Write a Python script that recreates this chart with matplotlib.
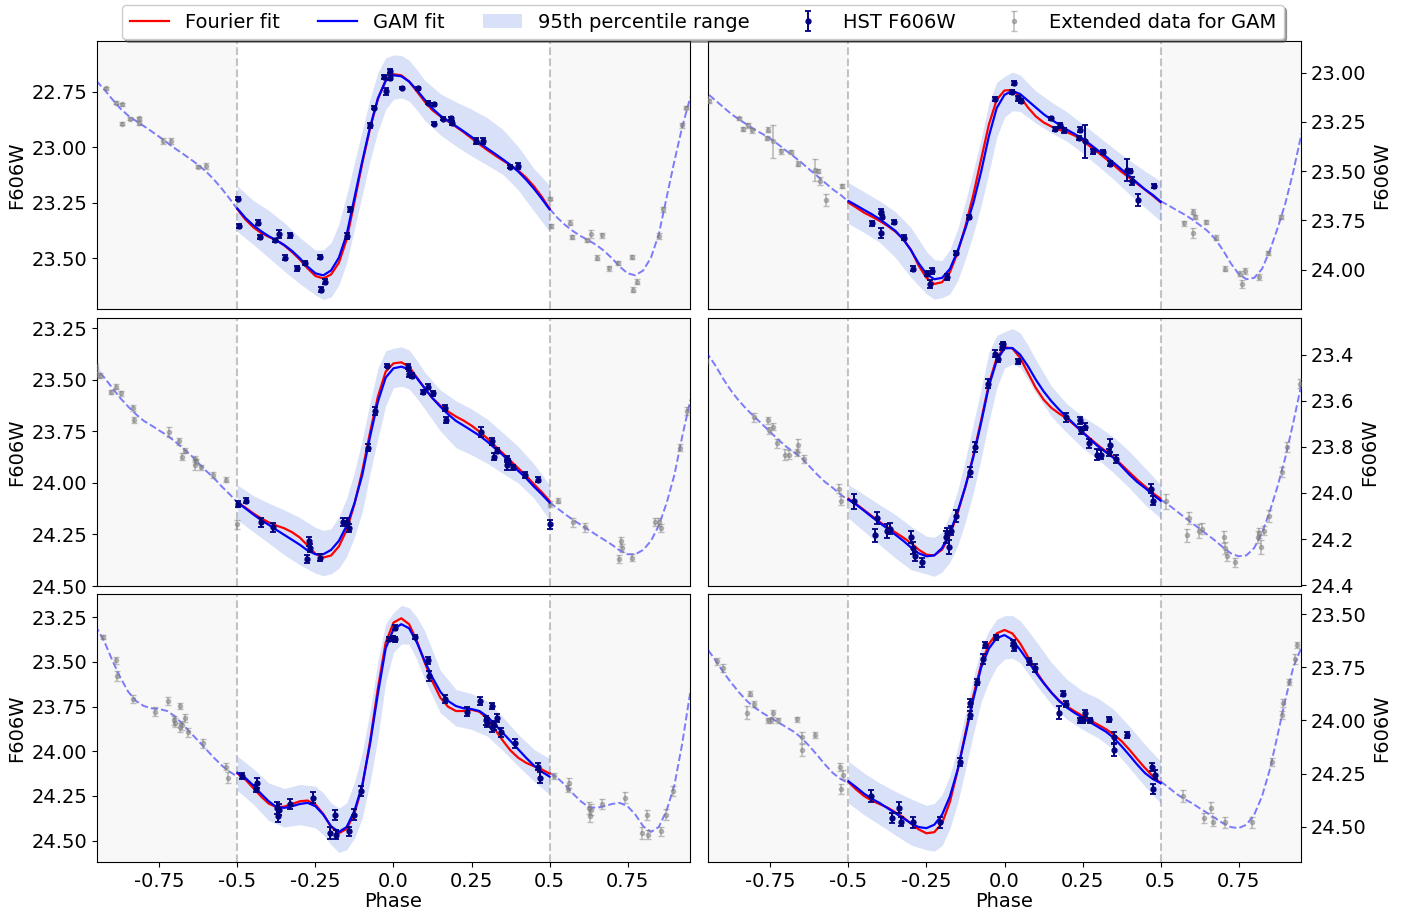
import matplotlib
matplotlib.use('Agg')
import matplotlib.pyplot as plt
import numpy as np
from matplotlib.patches import Patch

plt.rcParams['axes.unicode_minus'] = False
plt.rcParams['font.family'] = ['DejaVu Sans']

# ---------------- shared phase grids ----------------
fit_phase = [-0.5, -0.475, -0.45, -0.425, -0.4, -0.375, -0.35, -0.325, -0.3, -0.275,
             -0.25, -0.225, -0.2, -0.175, -0.15, -0.125, -0.1, -0.075, -0.05, -0.025,
             0.0, 0.025, 0.05, 0.075, 0.1, 0.125, 0.15, 0.175, 0.2, 0.225,
             0.25, 0.275, 0.3, 0.325, 0.35, 0.375, 0.4, 0.425, 0.45, 0.475, 0.5]
band_phase = [-0.5, -0.45, -0.4, -0.35, -0.3, -0.25, -0.225, -0.2, -0.175, -0.15,
              -0.125, -0.1, -0.075, -0.05, -0.025, 0.0, 0.025, 0.05, 0.075, 0.1,
              0.15, 0.2, 0.25, 0.3, 0.35, 0.4, 0.45, 0.5]

# ---------------- panel 1 (top left) ----------------
tl_phase = [-0.497, -0.495, -0.435, -0.427, -0.380, -0.368, -0.332, -0.347, -0.310, -0.282,
            -0.235, -0.220, -0.232, -0.149, -0.138, -0.075, -0.063, -0.032, -0.025, -0.012,
            -0.011, 0.027, 0.080, 0.112, 0.129, 0.129, 0.157, 0.185, 0.186, 0.263,
            0.287, 0.374, 0.400]
tl_mag = [23.232, 23.355, 23.340, 23.404, 23.420, 23.390, 23.398, 23.498, 23.547, 23.523,
          23.495, 23.607, 23.642, 23.400, 23.280, 22.901, 22.821, 22.682, 22.748, 22.655,
          22.685, 22.732, 22.733, 22.798, 22.806, 22.893, 22.870, 22.869, 22.889, 22.971,
          22.971, 23.087, 23.084]
tl_err = [0.008, 0.008, 0.010, 0.010, 0.008, 0.018, 0.010, 0.012, 0.012, 0.010,
          0.008, 0.012, 0.012, 0.015, 0.010, 0.010, 0.008, 0.008, 0.015, 0.010,
          0.010, 0.006, 0.006, 0.008, 0.008, 0.008, 0.008, 0.008, 0.008, 0.012,
          0.012, 0.008, 0.012]
tl_gam = [23.277, 23.318, 23.351, 23.378, 23.401, 23.420, 23.441, 23.468, 23.501, 23.539,
          23.569, 23.578, 23.556, 23.498, 23.393, 23.227, 23.062, 22.908, 22.779, 22.700,
          22.675, 22.679, 22.703, 22.742, 22.785, 22.825, 22.857, 22.881, 22.904, 22.928,
          22.953, 22.979, 23.005, 23.029, 23.054, 23.080, 23.110, 23.146, 23.187, 23.232,
          23.280]
tl_fourier = [23.280, 23.325, 23.360, 23.386, 23.404, 23.420, 23.443, 23.473, 23.507, 23.547,
              23.581, 23.592, 23.574, 23.521, 23.416, 23.245, 23.071, 22.914, 22.782, 22.697,
              22.670, 22.675, 22.703, 22.748, 22.794, 22.833, 22.860, 22.883, 22.907, 22.932,
              22.959, 22.986, 23.012, 23.036, 23.059, 23.081, 23.105, 23.137, 23.176, 23.223,
              23.277]
tl_band_lo = [23.175, 23.239, 23.285, 23.340, 23.408, 23.464, 23.463, 23.431, 23.346, 23.215,
              23.069, 22.923, 22.780, 22.663, 22.596, 22.583, 22.585, 22.607, 22.650, 22.697,
              22.758, 22.795, 22.828, 22.866, 22.919, 22.998, 23.096, 23.172]
tl_band_hi = [23.381, 23.438, 23.498, 23.559, 23.616, 23.667, 23.687, 23.676, 23.622, 23.521,
              23.367, 23.215, 23.060, 22.929, 22.829, 22.783, 22.777, 22.791, 22.832, 22.878,
              22.944, 22.994, 23.039, 23.080, 23.122, 23.193, 23.288, 23.381]
tl_yticks = [22.75, 23.00, 23.25, 23.50]

# ---------------- panel 2 (top right) ----------------
tr_phase = [-0.424, -0.397, -0.391, -0.396, -0.353, -0.322, -0.292, -0.247, -0.231, -0.238,
            -0.183, -0.155, -0.114, -0.031, 0.029, 0.025, 0.044, 0.054, 0.150, 0.163,
            0.177, 0.190, 0.243, 0.239, 0.259, 0.285, 0.316, 0.339, 0.394, 0.401,
            0.410, 0.428, 0.479]
tr_mag = [23.765, 23.707, 23.734, 23.815, 23.759, 23.839, 23.995, 24.020, 24.009, 24.073,
          24.037, 23.916, 23.734, 23.133, 23.051, 23.099, 23.130, 23.145, 23.232, 23.286,
          23.268, 23.293, 23.290, 23.332, 23.349, 23.399, 23.404, 23.463, 23.495, 23.500,
          23.551, 23.648, 23.578]
tr_err = [0.012, 0.012, 0.010, 0.025, 0.010, 0.012, 0.012, 0.015, 0.015, 0.018,
          0.015, 0.012, 0.010, 0.010, 0.010, 0.012, 0.012, 0.012, 0.008, 0.012,
          0.012, 0.012, 0.012, 0.012, 0.085, 0.012, 0.010, 0.012, 0.055, 0.012,
          0.020, 0.030, 0.010]
tr_gam = [23.652, 23.674, 23.697, 23.719, 23.744, 23.773, 23.803, 23.845, 23.901, 23.968,
          24.022, 24.049, 24.042, 23.997, 23.904, 23.790, 23.663, 23.504, 23.323, 23.180,
          23.113, 23.093, 23.109, 23.143, 23.177, 23.211, 23.239, 23.264, 23.290, 23.312,
          23.335, 23.365, 23.396, 23.426, 23.458, 23.492, 23.525, 23.559, 23.593, 23.621,
          23.655]
tr_fourier = [23.660, 23.685, 23.711, 23.731, 23.753, 23.778, 23.807, 23.844, 23.899, 23.980,
              24.042, 24.073, 24.064, 24.014, 23.913, 23.778, 23.621, 23.441, 23.264, 23.138,
              23.091, 23.089, 23.123, 23.177, 23.222, 23.253, 23.274, 23.290, 23.303, 23.320,
              23.345, 23.376, 23.406, 23.438, 23.470, 23.504, 23.534, 23.564, 23.594, 23.625,
              23.658]
tr_band_lo = [23.559, 23.605, 23.652, 23.706, 23.786, 23.908, 23.949, 23.955, 23.899, 23.795,
              23.654, 23.500, 23.338, 23.155, 23.050, 23.020, 22.998, 23.012, 23.053, 23.093,
              23.150, 23.200, 23.261, 23.323, 23.386, 23.445, 23.500, 23.551]
tr_band_hi = [23.766, 23.812, 23.862, 23.938, 24.039, 24.123, 24.150, 24.143, 24.124, 24.056,
              23.945, 23.820, 23.676, 23.509, 23.330, 23.227, 23.194, 23.197, 23.227, 23.256,
              23.306, 23.349, 23.408, 23.475, 23.542, 23.618, 23.685, 23.753]
tr_yticks = [23.00, 23.25, 23.50, 23.75, 24.00]

# ---------------- panel 3 (middle left) ----------------
ml_phase = [-0.497, -0.472, -0.424, -0.387, -0.276, -0.271, -0.269, -0.236, -0.162, -0.149,
            -0.144, -0.082, -0.060, -0.021, 0.047, 0.051, 0.059, 0.096, 0.112, 0.128,
            0.166, 0.167, 0.280, 0.314, 0.321, 0.333, 0.365, 0.364, 0.368, 0.384,
            0.422, 0.464, 0.500]
ml_mag = [24.102, 24.087, 24.191, 24.215, 24.370, 24.284, 24.317, 24.362, 24.191, 24.191,
          24.220, 23.829, 23.651, 23.431, 23.437, 23.473, 23.481, 23.557, 23.534, 23.564,
          23.638, 23.694, 23.754, 23.799, 23.872, 23.845, 23.885, 23.913, 23.895, 23.925,
          23.961, 23.985, 24.200]
ml_err = [0.015, 0.012, 0.022, 0.022, 0.020, 0.020, 0.020, 0.018, 0.020, 0.020,
          0.020, 0.018, 0.018, 0.008, 0.012, 0.015, 0.012, 0.010, 0.012, 0.012,
          0.015, 0.015, 0.025, 0.015, 0.015, 0.012, 0.015, 0.022, 0.012, 0.012,
          0.015, 0.012, 0.022]
ml_gam = [24.095, 24.123, 24.152, 24.179, 24.203, 24.228, 24.252, 24.276, 24.300, 24.328,
          24.346, 24.346, 24.325, 24.281, 24.207, 24.098, 23.961, 23.775, 23.606, 23.489,
          23.444, 23.436, 23.449, 23.492, 23.541, 23.589, 23.630, 23.667, 23.699, 23.722,
          23.746, 23.770, 23.799, 23.832, 23.864, 23.904, 23.942, 23.977, 24.018, 24.055,
          24.095]
ml_fourier = [24.095, 24.119, 24.147, 24.171, 24.191, 24.207, 24.220, 24.239, 24.265, 24.304,
              24.344, 24.362, 24.352, 24.308, 24.228, 24.102, 23.942, 23.754, 23.581, 23.460,
              23.420, 23.415, 23.436, 23.489, 23.541, 23.589, 23.625, 23.654, 23.678, 23.698,
              23.722, 23.751, 23.783, 23.820, 23.856, 23.893, 23.929, 23.966, 24.006, 24.045,
              24.087]
ml_band_lo = [24.010, 24.061, 24.098, 24.131, 24.168, 24.216, 24.230, 24.223, 24.163, 24.074,
              23.946, 23.791, 23.609, 23.444, 23.359, 23.347, 23.340, 23.355, 23.406, 23.463,
              23.549, 23.602, 23.641, 23.690, 23.756, 23.824, 23.908, 24.010]
ml_band_hi = [24.179, 24.236, 24.292, 24.349, 24.397, 24.438, 24.450, 24.441, 24.414, 24.357,
              24.262, 24.139, 23.953, 23.783, 23.625, 23.538, 23.531, 23.544, 23.590, 23.641,
              23.748, 23.829, 23.864, 23.904, 23.953, 24.001, 24.074, 24.179]
ml_yticks = [23.25, 23.50, 23.75, 24.00, 24.25, 24.50]

# ---------------- panel 4 (middle right) ----------------
mr_phase = [-0.483, -0.416, -0.410, -0.378, -0.368, -0.298, -0.293, -0.287, -0.263, -0.189,
            -0.184, -0.177, -0.170, -0.154, -0.111, -0.095, -0.054, -0.029, -0.022, -0.007,
            -0.004, 0.043, 0.196, 0.243, 0.246, 0.258, 0.272, 0.296, 0.310, 0.335,
            0.339, 0.357, 0.469, 0.476]
mr_mag = [24.036, 24.184, 24.109, 24.164, 24.155, 24.191, 24.239, 24.275, 24.301, 24.191,
          24.174, 24.236, 24.164, 24.101, 23.909, 23.800, 23.526, 23.396, 23.416, 23.365,
          23.355, 23.428, 23.671, 23.685, 23.727, 23.713, 23.785, 23.833, 23.833, 23.823,
          23.793, 23.851, 23.982, 24.033]
mr_err = [0.032, 0.028, 0.025, 0.030, 0.025, 0.025, 0.025, 0.020, 0.020, 0.025,
          0.020, 0.030, 0.020, 0.025, 0.020, 0.022, 0.020, 0.015, 0.015, 0.012,
          0.012, 0.010, 0.020, 0.015, 0.015, 0.015, 0.018, 0.025, 0.020, 0.015,
          0.028, 0.018, 0.020, 0.020]
mr_gam = [24.029, 24.051, 24.077, 24.104, 24.130, 24.155, 24.181, 24.207, 24.236, 24.262,
          24.275, 24.271, 24.239, 24.174, 24.080, 23.971, 23.845, 23.696, 23.536, 23.425,
          23.372, 23.370, 23.399, 23.449, 23.507, 23.558, 23.601, 23.638, 23.671, 23.703,
          23.736, 23.768, 23.798, 23.823, 23.848, 23.884, 23.920, 23.952, 23.978, 24.007,
          24.033]
mr_fourier = [24.025, 24.048, 24.074, 24.100, 24.126, 24.149, 24.171, 24.193, 24.217, 24.246,
              24.268, 24.271, 24.246, 24.184, 24.087, 23.971, 23.838, 23.685, 23.526, 23.413,
              23.367, 23.372, 23.413, 23.478, 23.543, 23.594, 23.630, 23.655, 23.677, 23.706,
              23.735, 23.764, 23.793, 23.819, 23.845, 23.877, 23.910, 23.942, 23.971, 24.000,
              24.025]
mr_band_lo = [23.964, 24.007, 24.051, 24.094, 24.145, 24.188, 24.193, 24.169, 24.094, 23.990,
              23.853, 23.700, 23.550, 23.390, 23.316, 23.300, 23.286, 23.304, 23.358, 23.420,
              23.536, 23.613, 23.667, 23.710, 23.758, 23.819, 23.891, 23.964]
mr_band_hi = [24.109, 24.167, 24.225, 24.282, 24.333, 24.352, 24.362, 24.343, 24.301, 24.230,
              24.124, 24.000, 23.851, 23.690, 23.545, 23.457, 23.440, 23.454, 23.506, 23.565,
              23.667, 23.739, 23.804, 23.855, 23.913, 23.978, 24.051, 24.109]
mr_yticks = [23.4, 23.6, 23.8, 24.0, 24.2, 24.4]

# ---------------- panel 5 (bottom left) ----------------
bl_phase = [-0.485, -0.442, -0.437, -0.374, -0.371, -0.366, -0.333, -0.257, -0.205, -0.187,
            -0.184, -0.142, -0.127, -0.104, -0.016, -0.003, 0.004, 0.004, 0.069, 0.111,
            0.113, 0.166, 0.235, 0.276, 0.297, 0.300, 0.315, 0.316, 0.321, 0.332,
            0.343, 0.390, 0.463, 0.469]
bl_mag = [24.140, 24.209, 24.177, 24.317, 24.360, 24.327, 24.295, 24.261, 24.457, 24.358,
          24.467, 24.448, 24.355, 24.224, 23.373, 23.368, 23.308, 23.373, 23.360, 23.491,
          23.579, 23.706, 23.779, 23.719, 23.828, 23.841, 23.747, 23.865, 23.854, 23.813,
          23.893, 23.956, 24.087, 24.149]
bl_err = [0.018, 0.020, 0.028, 0.035, 0.035, 0.030, 0.030, 0.030, 0.035, 0.028,
          0.025, 0.025, 0.030, 0.028, 0.012, 0.015, 0.012, 0.015, 0.010, 0.018,
          0.030, 0.022, 0.025, 0.022, 0.025, 0.025, 0.015, 0.025, 0.025, 0.022,
          0.025, 0.025, 0.020, 0.030]
bl_gam = [24.121, 24.149, 24.190, 24.237, 24.280, 24.312, 24.317, 24.308, 24.295, 24.289,
          24.308, 24.355, 24.420, 24.452, 24.424, 24.332, 24.190, 23.958, 23.678, 23.424,
          23.317, 23.289, 23.312, 23.392, 23.495, 23.588, 23.667, 23.719, 23.747, 23.760,
          23.764, 23.775, 23.805, 23.850, 23.897, 23.943, 23.990, 24.037, 24.080, 24.115,
          24.142]
bl_fourier = [24.125, 24.158, 24.205, 24.252, 24.293, 24.313, 24.310, 24.295, 24.280, 24.276,
              24.299, 24.351, 24.424, 24.459, 24.435, 24.347, 24.196, 23.943, 23.648, 23.392,
              23.280, 23.256, 23.289, 23.383, 23.504, 23.611, 23.700, 23.751, 23.775, 23.775,
              23.768, 23.779, 23.816, 23.878, 23.940, 23.996, 24.037, 24.065, 24.084, 24.102,
              24.125]
bl_band_lo = [24.028, 24.097, 24.177, 24.209, 24.186, 24.196, 24.233, 24.289, 24.319, 24.289,
              24.174, 24.009, 23.776, 23.495, 23.286, 23.224, 23.184, 23.196, 23.250, 23.327,
              23.547, 23.654, 23.678, 23.719, 23.809, 23.906, 23.990, 24.041]
bl_band_hi = [24.220, 24.295, 24.388, 24.424, 24.411, 24.429, 24.467, 24.523, 24.567, 24.551,
              24.487, 24.373, 24.173, 23.925, 23.613, 23.448, 23.399, 23.401, 23.488, 23.598,
              23.785, 23.859, 23.878, 23.915, 23.996, 24.084, 24.168, 24.242]
bl_yticks = [23.25, 23.50, 23.75, 24.00, 24.25, 24.50]

# ---------------- panel 6 (bottom right) ----------------
br_phase = [-0.429, -0.360, -0.339, -0.333, -0.292, -0.207, -0.144, -0.112, -0.109, -0.089,
            -0.068, -0.064, -0.027, 0.027, 0.029, 0.080, 0.098, 0.174, 0.186, 0.198,
            0.241, 0.251, 0.259, 0.274, 0.334, 0.350, 0.350, 0.394, 0.473, 0.481,
            0.475]
br_mag = [24.357, 24.459, 24.409, 24.475, 24.478, 24.478, 24.196, 23.975, 23.917, 23.818,
          23.712, 23.645, 23.610, 23.637, 23.657, 23.723, 23.755, 23.964, 23.874, 23.924,
          24.000, 24.000, 23.967, 24.000, 23.995, 24.079, 24.138, 24.069, 24.218, 24.255,
          24.322]
br_err = [0.028, 0.022, 0.028, 0.022, 0.025, 0.025, 0.020, 0.018, 0.018, 0.015,
          0.025, 0.015, 0.012, 0.015, 0.015, 0.015, 0.018, 0.030, 0.012, 0.015,
          0.010, 0.012, 0.015, 0.012, 0.012, 0.025, 0.028, 0.015, 0.020, 0.020,
          0.022]
br_gam = [24.286, 24.314, 24.344, 24.368, 24.388, 24.412, 24.435, 24.459, 24.483, 24.501,
          24.506, 24.490, 24.443, 24.357, 24.231, 24.069, 23.901, 23.752, 23.662, 23.613,
          23.599, 23.621, 23.668, 23.720, 23.775, 23.824, 23.869, 23.909, 23.940, 23.965,
          23.987, 24.009, 24.031, 24.053, 24.082, 24.121, 24.163, 24.207, 24.247, 24.275,
          24.294]
br_fourier = [24.289, 24.325, 24.355, 24.377, 24.393, 24.409, 24.431, 24.454, 24.484, 24.512,
              24.530, 24.525, 24.483, 24.383, 24.234, 24.058, 23.885, 23.739, 23.641, 23.591,
              23.575, 23.591, 23.638, 23.701, 23.767, 23.821, 23.868, 23.906, 23.934, 23.957,
              23.979, 24.000, 24.020, 24.041, 24.066, 24.097, 24.137, 24.181, 24.223, 24.262,
              24.294]
br_band_lo = [24.192, 24.247, 24.294, 24.333, 24.368, 24.399, 24.390, 24.349, 24.259, 24.129,
              23.967, 23.799, 23.660, 23.579, 23.526, 23.508, 23.507, 23.531, 23.577, 23.626,
              23.728, 23.807, 23.862, 23.896, 23.948, 24.027, 24.113, 24.192]
br_band_hi = [24.388, 24.443, 24.490, 24.538, 24.585, 24.608, 24.614, 24.588, 24.508, 24.388,
              24.230, 24.066, 23.913, 23.818, 23.748, 23.712, 23.708, 23.728, 23.778, 23.830,
              23.924, 23.995, 24.042, 24.082, 24.137, 24.223, 24.310, 24.388]
br_yticks = [23.50, 23.75, 24.00, 24.25, 24.50]

x_ticks = [-0.75, -0.5, -0.25, 0.0, 0.25, 0.5, 0.75]
x_ticklabels = ['-0.75', '-0.5', '-0.25', '0.0', '0.25', '0.5', '0.75']

panels = [
    (tl_phase, tl_mag, tl_err, tl_gam, tl_fourier, tl_band_lo, tl_band_hi, tl_yticks, (23.73, 22.52)),
    (tr_phase, tr_mag, tr_err, tr_gam, tr_fourier, tr_band_lo, tr_band_hi, tr_yticks, (24.20, 22.84)),
    (ml_phase, ml_mag, ml_err, ml_gam, ml_fourier, ml_band_lo, ml_band_hi, ml_yticks, (24.50, 23.20)),
    (mr_phase, mr_mag, mr_err, mr_gam, mr_fourier, mr_band_lo, mr_band_hi, mr_yticks, (24.404, 23.24)),
    (bl_phase, bl_mag, bl_err, bl_gam, bl_fourier, bl_band_lo, bl_band_hi, bl_yticks, (24.62, 23.12)),
    (br_phase, br_mag, br_err, br_gam, br_fourier, br_band_lo, br_band_hi, br_yticks, (24.665, 23.406)),
]

W, H = 1406, 913
fig = plt.figure(figsize=(W / 100, H / 100), dpi=100)
col_left = [97 / W, 708 / W]
ax_w = 593 / W
row_bottom = [1 - 309 / H, 1 - 586 / H, 1 - 862 / H]
ax_h = 268 / H

fp = np.array(fit_phase)
legend_handles = None
for i, (ph, mg, er, gam, fou, blo, bhi, yt, yl) in enumerate(panels):
    row, col = divmod(i, 2)
    ax = fig.add_axes([col_left[col], row_bottom[row], ax_w, ax_h])
    ph = np.array(ph)
    ax.axvspan(-1.5, -0.5, color='gray', alpha=0.05, lw=0, zorder=0)
    ax.axvspan(0.5, 1.5, color='gray', alpha=0.05, lw=0, zorder=0)
    ax.axvline(-0.5, color='gray', ls='--', alpha=0.45, lw=1.5, zorder=1)
    ax.axvline(0.5, color='gray', ls='--', alpha=0.45, lw=1.5, zorder=1)
    ax.fill_between(band_phase, blo, bhi, color='royalblue', alpha=0.2, lw=0, zorder=2)
    ax.plot(fp - 1, gam, ls='--', color='blue', alpha=0.5, lw=1.4, zorder=3)
    ax.plot(fp + 1, gam, ls='--', color='blue', alpha=0.5, lw=1.4, zorder=3)
    ext1 = ax.errorbar(ph - 1, mg, yerr=er, fmt='o', color='gray', alpha=0.5, ms=3,
                       capsize=2, elinewidth=1.2, zorder=3)
    ax.errorbar(ph + 1, mg, yerr=er, fmt='o', color='gray', alpha=0.5, ms=3,
                capsize=2, elinewidth=1.2, zorder=3)
    l_f, = ax.plot(fp, fou, color='red', lw=1.6, zorder=4)
    l_g, = ax.plot(fp, gam, color='blue', lw=1.6, zorder=5)
    hst = ax.errorbar(ph, mg, yerr=er, fmt='o', color='navy', ms=3.5, capsize=2.5,
                      elinewidth=1.4, capthick=1.3, zorder=6)
    if legend_handles is None:
        band_patch = Patch(facecolor='royalblue', alpha=0.2, edgecolor='none')
        legend_handles = [l_f, l_g, band_patch, hst, ext1]
    ax.set_xlim(-0.95, 0.95)
    ax.set_ylim(*yl)
    ax.set_yticks(yt)
    ax.tick_params(axis='y', labelsize=14)
    ax.set_ylabel('F606W', fontsize=14)
    if col == 1:
        ax.yaxis.tick_right()
        ax.yaxis.set_label_position('right')
    if row < 2:
        ax.tick_params(axis='x', bottom=False, labelbottom=False)
    else:
        ax.set_xticks(x_ticks)
        ax.set_xticklabels(x_ticklabels)
        ax.tick_params(axis='x', labelsize=14)
        ax.set_xlabel('Phase', fontsize=14, labelpad=1)

fig.legend(legend_handles,
           ['Fourier fit', 'GAM fit', '95th percentile range', 'HST F606W',
            'Extended data for GAM'],
           loc='upper center', bbox_to_anchor=(0.5, 1.0), ncol=5, fontsize=14,
           shadow=True, borderaxespad=0.25, framealpha=1)

fig.savefig('out.png', dpi=100)
